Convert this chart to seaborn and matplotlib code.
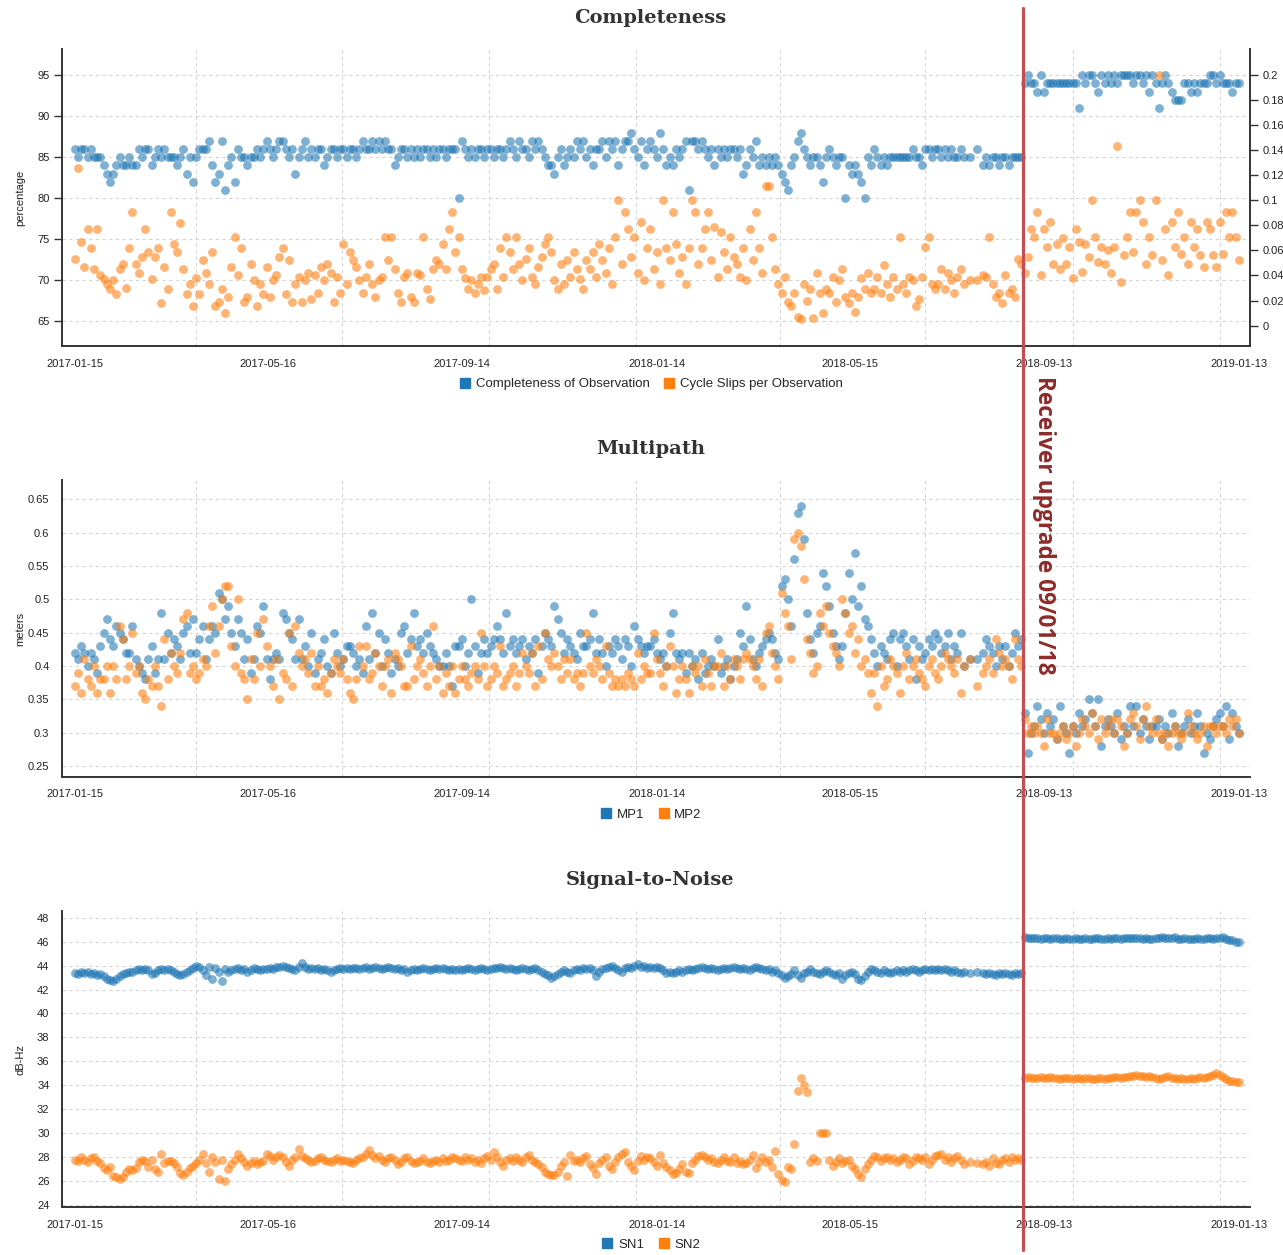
import matplotlib
matplotlib.use("Agg")
import matplotlib.pyplot as plt
import matplotlib.dates as mdates
from matplotlib.lines import Line2D
import seaborn as sns
import pandas as pd
import numpy as np

BLUE = "#1f77b4"
ORANGE = "#ff7f0e"

# one sample every second day, 2017-01-15 .. 2019-01-13 (365 samples)
dates = pd.date_range("2017-01-15", "2019-01-13", freq="2D")
upgrade_date = "2018-08-31"

tick_labels = ["2017-01-15", "2017-05-16", "2017-09-14", "2018-01-14",
               "2018-05-15", "2018-09-13", "2019-01-13"]
grid_dates = ["2017-04-01", "2017-07-01", "2017-10-01", "2018-01-01",
              "2018-04-01", "2018-07-01", "2018-10-01", "2019-01-01"]

# completeness of observation (%), left axis
completeness = """
86 85 86 86 85 86 85 85 85 84 83 82 83 84 85 84 84 85 84 84 86 85 86 86 84 85 86 85 86 85
85 85 84 85 86 83 85 82 85 86 86 86 87 84 82 83 87 81 84 85 82 86 85 85 84 85 85 86 85 86
87 86 85 86 87 87 86 85 86 83 85 86 87 85 86 85 86 86 84 85 86 86 85 86 86 85 86 86 85 86
87 86 86 87 86 87 86 87 86 86 84 85 86 86 85 86 85 86 85 86 86 85 86 85 86 86 85 86 86 86
80 87 86 85 86 85 86 86 85 86 86 85 86 86 85 86 87 86 85 87 86 86 85 87 86 87 86 85 84 84
83 85 86 84 85 86 85 87 86 87 85 86 84 86 86 87 85 87 86 87 84 86 87 87 88 86 85 87 84 86
87 86 85 88 86 84 85 84 86 85 86 87 81 87 87 86 87 86 85 86 84 86 85 86 85 86 86 85 86 83
84 86 85 87 84 85 84 85 84 85 84 83 82 81 84 85 87 88 86 85 84 85 85 84 82 85 86 85 84 85
85 80 84 83 84 83 82 80 85 84 86 85 84 85 84 85 85 85 85 85 85 85 86 85 85 84 86 86 85 86
86 85 86 85 86 85 85 86 85 nan 85 nan 86 nan 84 85 84 85 85 84 85 85 84 85 85 85 85 94 95 94
94 93 95 93 94 94 94 94 94 94 94 94 94 94 91 95 94 95 95 94 93 95 94 95 94 95 94 95 95 95
95 94 95 95 94 95 93 95 94 91 94 95 94 93 92 92 92 94 94 93 94 93 94 94 94 95 95 94 95 94
94 94 93 94 94
"""

# cycle slips per observation, right axis
cycle_slips = """
.053 .126 .067 .047 .077 .062 .045 .077 .040 .037 .033 .029 .036 .025 .045 .049 .030 .062 .091 .049 .042 .055 .077 .059 .037 .055 .062 .018 .047 .029
.091 .065 .059 .082 .045 .025 .033 .016 .038 .025 .052 .042 .033 .059 .016 .019 .029 .010 .023 .047 .071 .040 .062 .019 .023 .049 .036 .016 .033 .025
.047 .023 .036 .040 .055 .062 .025 .052 .019 .033 .039 .019 .036 .042 .021 .040 .026 .047 .036 .049 .042 .019 .039 .026 .065 .033 .059 .052 .047 .036
.026 .039 .049 .033 .023 .036 .039 .071 .052 .071 .045 .026 .019 .039 .042 .023 .019 .042 .040 .071 .029 .021 .045 .052 .049 .065 .045 .077 .091 .059
.071 .045 .038 .029 .036 .026 .033 .039 .028 .039 .045 .049 .029 .062 .039 .071 .059 .045 .071 .049 .036 .053 .062 .039 .033 .047 .055 .065 .071 .059
.036 .029 .049 .033 .052 .039 .059 .045 .037 .029 .052 .045 .059 .039 .065 .052 .042 .062 .033 .071 .100 .049 .091 .077 .055 .071 .042 .083 .036 .062
.077 .045 .059 .033 .100 .062 .052 .091 .065 .042 .055 .033 .062 .100 .091 .049 .062 .077 .091 .052 .079 .039 .075 .059 .045 .071 .055 .049 .039 .062
.036 .077 .052 .091 .062 .042 .111 .111 .071 .045 .033 .026 .039 .019 .016 .026 .007 .005 .033 .020 .029 .006 .042 .026 .010 .029 .026 .039 .019 .036
.045 .023 .018 .026 .011 .023 .038 .029 .042 .026 .029 .039 .026 .048 .033 .023 .039 .029 .071 .033 .026 .039 .036 .016 .021 .039 .063 .071 .033 .029
.033 .045 .029 .042 .036 .026 .039 .045 .033 nan .036 nan .036 nan .040 .039 .071 .033 .023 .026 .018 .040 .026 .029 .023 .053 .049 .042 .055 .077
.071 .091 .040 .077 .063 .083 .049 .065 .045 .070 .049 .063 .038 .077 .067 .043 .065 .055 .100 .071 .051 .063 .049 .060 .042 .063 .143 .035 .056 .071
.091 .059 .091 .100 .083 .049 .071 .056 .100 .200 .052 .077 .040 .083 .063 .091 .057 .071 .049 .083 .063 .077 .056 .047 .083 .077 .056 .047 .083 .057
.091 .071 .091 .071 .052
"""

# multipath (m)
mp1 = """
.42 .41 .43 .42 .40 .42 .41 .39 .43 .45 .47 .44 .43 .46 .45 .44 .42 .42 .46 .41 .40 .39 .38 .41 .43 .39 .41 .48 .41 .45
.42 .44 .43 .41 .45 .46 .42 .47 .42 .44 .46 .41 .44 .46 .45 .51 .50 .47 .49 .45 .43 .47 .45 .41 .44 .39 .41 .46 .45 .49
.41 .38 .41 .42 .41 .48 .47 .45 .44 .41 .47 .41 .43 .40 .45 .39 .41 .42 .44 .40 .39 .45 .42 .40 .41 .43 .43 .42 .40 .41
.39 .46 .41 .48 .42 .45 .40 .44 .42 .39 .41 .40 .45 .46 .42 .44 .48 .43 .44 .42 .45 .43 .42 .41 .40 .40 .42 .40 .37 .43
.43 .44 .40 .42 .50 .43 .39 .42 .44 .42 .43 .44 .46 .44 .42 .48 .43 .44 .42 .43 .44 .41 .43 .42 .44 .39 .43 .45 .44 .43
.49 .47 .45 .42 .44 .43 .42 .41 .45 .43 .43 .44 .48 .42 .44 .42 .40 .43 .42 .44 .43 .41 .44 .43 .40 .46 .44 .43 .42 .43
.43 .44 .42 .41 .42 .40 .45 .48 .42 .41 .42 .39 .42 .40 .41 .38 .42 .39 .40 .41 .40 .44 .39 .40 .41 .38 .40 .41 .45 .43
.49 .44 .41 .40 .42 .43 .44 .45 .44 .42 .41 .52 .53 .50 .46 .56 .63 .64 .59 .48 .44 .42 .45 .46 .54 .52 .49 .45 .43 .41
.43 .48 .54 .50 .57 .49 .52 .47 .46 .44 .42 .40 .43 .42 .41 .44 .45 .40 .44 .45 .43 .41 .44 .38 .43 .41 .42 .44 .43 .45
.44 .42 .43 .45 .41 .43 .42 .45 .40 nan .41 nan .41 nan .42 .44 .43 .42 .40 .43 .41 .43 .40 .42 .45 .43 .44 .33 .27 .30
.31 .34 .32 .30 .33 .31 .32 .29 .34 .31 .30 .27 .31 .30 .33 .31 .32 .35 .33 .31 .35 .28 .31 .32 .31 .30 .33 .29 .31 .30
.34 .31 .34 .30 .32 .31 .29 .31 .31 .32 .29 .31 .30 .33 .31 .28 .30 .31 .32 .30 .31 .33 .31 .27 .30 .29 .31 .32 .33 .31
.34 .29 .33 .31 .30
"""

mp2 = """
.37 .39 .36 .41 .38 .37 .40 .36 .38 .38 .40 .36 .40 .38 .46 .44 .38 .40 .45 .39 .40 .36 .35 .38 .37 .40 .37 .34 .44 .38
.42 .40 .39 .42 .47 .48 .39 .40 .38 .39 .41 .40 .46 .49 .42 .46 .50 .52 .52 .43 .40 .50 .39 .38 .35 .41 .38 .45 .40 .47
.43 .40 .37 .41 .35 .39 .38 .45 .37 .46 .42 .40 .41 .39 .42 .37 .40 .37 .38 .36 .39 .41 .40 .39 .41 .38 .36 .35 .38 .43
.40 .43 .38 .39 .42 .40 .37 .40 .41 .36 .42 .41 .40 .37 .37 .43 .38 .40 .41 .39 .37 .40 .46 .38 .40 .36 .39 .37 .40 .36
.38 .40 .38 .37 .39 .40 .38 .45 .40 .37 .38 .40 .39 .43 .37 .38 .39 .40 .37 .39 .42 .40 .39 .42 .37 .43 .38 .45 .41 .40
.42 .40 .38 .41 .39 .41 .38 .39 .37 .39 .45 .40 .39 .41 .40 .38 .43 .39 .37 .38 .37 .38 .37 .39 .38 .37 .42 .38 .40 .39
.39 .45 .41 .39 .37 .40 .43 .40 .36 .38 .40 .38 .36 .40 .39 .40 .37 .41 .39 .37 .40 .40 .42 .37 .40 .38 .41 .40 .38 .41
.42 .41 .40 .38 .41 .37 .45 .46 .42 .40 .38 .51 .48 .46 .41 .59 .60 .58 .53 .44 .42 .39 .40 .48 .46 .49 .45 .43 .42 .40
.50 .48 .45 .46 .42 .44 .40 .41 .39 .36 .39 .34 .40 .37 .38 .41 .40 .39 .36 .40 .42 .38 .40 .41 .39 .38 .37 .40 .41 .39
.38 .40 .42 .41 .40 .39 .41 .36 .40 nan .41 nan .37 nan .39 .40 .41 .39 .44 .42 .40 .41 .40 .38 .44 .41 .40 .32 .30 .31
.30 .31 .30 .28 .32 .30 .30 .29 .30 .31 .29 .30 .31 .28 .30 .32 .31 .30 .33 .31 .29 .32 .30 .31 .32 .30 .32 .31 .28 .30
.32 .33 .31 .29 .32 .34 .31 .30 .32 .30 .29 .30 .28 .30 .31 .30 .29 .30 .33 .31 .30 .29 .30 .31 .28 .31 .31 .30 .31 .31
.30 .32 .31 .32 .30
"""

# signal-to-noise (dB-Hz)
sn1 = """
43.4 43.3 43.5 43.4 43.5 43.3 43.4 43.2 43.3 43.1 42.9 42.8 42.7 42.9 43.1 43.3 43.4 43.5 43.5 43.6 43.7 43.6 43.7 43.6 43.3 43.4 43.6 43.7 43.6 43.7
43.6 43.5 43.3 43.2 43.3 43.5 43.6 43.8 44.0 43.9 43.6 43.2 43.9 42.9 43.8 43.5 42.7 43.7 43.5 43.6 43.7 43.8 43.6 43.7 43.5 43.6 43.8 43.7 43.6 43.7
43.7 43.8 43.7 43.9 43.9 44.0 43.9 43.8 43.7 43.6 43.9 44.2 43.9 43.7 43.8 43.7 43.8 43.6 43.7 43.6 43.5 43.6 43.7 43.8 43.7 43.8 43.7 43.8 43.8 43.7
43.8 43.9 43.7 43.8 43.9 43.8 43.7 43.8 43.9 43.8 43.7 43.8 43.6 43.7 43.5 43.6 43.7 43.6 43.7 43.8 43.7 43.6 43.7 43.8 43.7 43.8 43.7 43.6 43.7 43.6
43.7 43.6 43.7 43.8 43.7 43.6 43.7 43.8 43.7 43.6 43.7 43.8 43.8 43.9 43.8 43.7 43.8 43.7 43.6 43.7 43.8 43.7 43.6 43.7 43.8 43.6 43.5 43.3 43.2 43.0
43.1 43.3 43.5 43.6 43.5 43.4 43.6 43.7 43.6 43.8 43.7 43.8 43.6 43.1 43.5 43.7 43.8 43.9 44.0 43.8 43.6 43.5 43.8 43.9 43.8 44.0 44.1 43.9 44.0 43.8
43.9 43.8 43.9 43.8 43.6 43.4 43.5 43.4 43.5 43.6 43.5 43.6 43.7 43.6 43.7 43.8 43.9 43.8 43.7 43.8 43.7 43.6 43.7 43.8 43.7 43.8 43.9 43.8 43.7 43.8
43.7 43.6 43.8 43.9 43.8 43.7 43.6 43.7 43.5 43.6 43.4 43.2 43.0 43.1 43.3 43.6 43.2 43.0 43.4 43.5 43.7 43.5 43.4 43.3 43.5 43.6 43.5 43.3 43.2 43.4
42.9 43.2 43.4 43.5 43.3 42.9 42.8 43.1 43.5 43.7 43.6 43.5 43.4 43.6 43.5 43.4 43.5 43.6 43.5 43.6 43.5 43.6 43.7 43.6 43.5 43.6 43.7 43.6 43.7 43.6
43.7 43.6 43.7 43.6 43.5 43.6 43.5 43.4 43.5 nan 43.4 nan 43.5 nan 43.4 43.3 43.4 43.3 43.2 43.4 43.3 43.4 43.3 43.2 43.4 43.3 43.4 46.4 46.3 46.3
46.3 46.3 46.2 46.3 46.3 46.2 46.3 46.3 46.2 46.2 46.3 46.2 46.2 46.3 46.2 46.2 46.3 46.2 46.2 46.3 46.3 46.2 46.2 46.3 46.2 46.3 46.3 46.2 46.3 46.3
46.3 46.3 46.3 46.3 46.2 46.3 46.2 46.2 46.3 46.3 46.4 46.3 46.3 46.3 46.4 46.2 46.2 46.3 46.2 46.2 46.2 46.3 46.2 46.2 46.3 46.3 46.2 46.3 46.3 46.4
46.2 46.1 46.1 46.0 46.0
"""

sn2 = """
27.8 27.7 28.0 27.8 27.6 27.9 28.0 27.7 27.5 27.1 26.9 27.2 26.4 26.3 26.2 26.3 26.8 27.0 26.9 27.1 27.6 27.8 27.7 27.2 27.8 27.0 26.8 28.3 27.5 27.7
27.7 27.5 27.2 26.7 26.5 26.8 27.1 27.3 27.5 27.8 28.3 27.5 26.8 28.0 27.6 26.2 27.8 26.0 27.0 27.4 27.8 28.3 27.9 27.6 27.3 27.5 27.7 27.4 27.6 27.7
28.3 28.1 27.8 28.0 28.2 28.0 27.6 27.3 27.8 28.0 28.7 28.1 27.9 27.8 27.6 27.7 27.9 28.0 27.8 27.7 27.6 27.8 27.9 27.7 27.8 27.7 27.6 27.5 27.8 27.9
28.0 28.3 28.6 28.2 27.9 28.1 27.8 27.6 27.9 28.0 27.8 27.4 27.6 27.9 28.0 27.7 27.5 27.6 27.7 27.9 27.6 27.5 27.7 27.8 27.6 27.9 27.7 27.8 28.0 27.9
27.8 27.7 28.0 27.8 27.9 27.6 27.8 27.5 27.9 28.1 27.8 28.4 28.0 27.6 27.3 27.8 27.9 27.7 28.0 27.8 27.6 28.0 28.2 27.8 27.6 27.4 27.2 26.8 26.6 26.5
26.5 26.8 27.3 27.6 26.4 28.2 27.7 27.8 27.6 27.9 28.1 27.4 27.1 26.6 27.5 27.8 28.0 27.3 27.0 27.6 28.0 28.3 28.4 27.6 27.3 26.9 27.7 28.1 27.8 28.0
27.9 27.6 27.3 28.2 27.5 27.2 26.9 26.6 26.7 27.0 27.4 26.8 26.7 27.5 27.8 28.1 28.2 28.0 27.8 27.9 27.6 27.5 27.8 28.0 27.7 27.6 28.0 27.5 27.7 27.4
27.5 27.8 28.2 27.1 27.6 28.0 27.6 27.8 27.2 28.5 26.6 26.1 25.9 27.2 27.0 29.1 33.5 34.6 34.0 33.4 27.6 27.9 27.7 30.0 30.0 30.0 27.8 27.3 27.6 27.9
27.5 27.7 27.8 27.3 27.0 26.6 26.3 27.0 27.4 27.8 28.1 28.0 27.7 27.9 28.0 27.8 27.9 27.6 27.8 28.0 27.9 27.4 27.7 28.0 27.9 27.8 28.0 27.4 27.8 28.1
28.2 28.3 27.8 28.0 27.6 27.9 28.1 27.8 27.4 nan 27.6 nan 27.5 nan 27.4 27.6 27.3 27.9 27.5 27.4 27.8 27.9 27.6 28.0 27.8 27.9 27.8 34.6 34.7 34.6
34.6 34.6 34.7 34.6 34.6 34.7 34.6 34.6 34.5 34.6 34.6 34.6 34.5 34.6 34.6 34.5 34.6 34.6 34.5 34.5 34.6 34.6 34.5 34.6 34.6 34.7 34.7 34.6 34.7 34.7
34.8 34.8 34.9 34.8 34.8 34.7 34.8 34.7 34.6 34.5 34.6 34.7 34.8 34.6 34.6 34.5 34.6 34.5 34.5 34.6 34.5 34.6 34.7 34.6 34.7 34.8 34.9 35.0 34.9 34.7
34.5 34.4 34.4 34.3 34.3
"""


def vals(text):
    v = np.array([float(t) for t in text.split()])
    assert len(v) == len(dates), len(v)
    return v


sns.set_style("white")
plt.rcParams["font.family"] = ["Liberation Sans", "DejaVu Sans"]

fig = plt.figure(figsize=(12.83, 12.55), dpi=100)
ax_c = fig.add_axes([0.0483, 0.7243, 0.926, 0.2367])
ax_m = fig.add_axes([0.0483, 0.3809, 0.926, 0.2367])
ax_s = fig.add_axes([0.0483, 0.0382, 0.926, 0.2359])

major = mdates.date2num(pd.to_datetime(tick_labels))
minor = (major[:-1] + major[1:]) / 2
xlim = mdates.date2num(pd.to_datetime(["2017-01-07", "2019-01-20"]))
GRID = dict(color="#d4d4d4", linestyle=(0, (3, 3)), linewidth=0.8, zorder=0)
DOT = dict(s=40, alpha=0.58, linewidth=0, legend=False)


def style(ax, yticks, ylim, ylabel):
    ax.set_xlim(xlim)
    ax.set_ylim(ylim)
    ax.set_yticks(yticks)
    ax.set_yticklabels([f"{t:g}" for t in yticks])
    ax.set_xticks(major)
    ax.set_xticklabels(tick_labels)
    ax.set_xticks(minor, minor=True)
    ax.set_axisbelow(True)
    for g in pd.to_datetime(grid_dates):
        ax.axvline(g, **GRID)
    for t in yticks:
        ax.axhline(t, **GRID)
    for side in ["top", "right"]:
        ax.spines[side].set_visible(False)
    for side in ["left", "bottom"]:
        ax.spines[side].set_color("#333333")
        ax.spines[side].set_linewidth(1.4)
    ax.tick_params(which="both", direction="out", length=6, width=1,
                   color="#333333", labelsize=8, labelcolor="#222222", pad=3)
    ax.set_xlabel("")
    ax.set_ylabel(ylabel, fontsize=8, color="#222222")
    ax.yaxis.set_label_coords(-0.031, 0.5)


# Completeness
sns.scatterplot(x=dates, y=vals(completeness), ax=ax_c, color=BLUE, **DOT)
style(ax_c, [65, 70, 75, 80, 85, 90, 95], (62.0, 98.2), "percentage")
ax_r = ax_c.twinx()
sns.scatterplot(x=dates, y=vals(cycle_slips), ax=ax_r, color=ORANGE, **DOT)
ax_r.set_ylim(-0.0163, 0.2207)
rt = [0, 0.02, 0.04, 0.06, 0.08, 0.1, 0.12, 0.14, 0.16, 0.18, 0.2]
ax_r.set_yticks(rt)
ax_r.set_yticklabels([f"{t:g}" for t in rt])
ax_r.set_ylabel("")
for side in ["top", "left", "bottom"]:
    ax_r.spines[side].set_visible(False)
ax_r.spines["right"].set_color("#333333")
ax_r.spines["right"].set_linewidth(1.4)
ax_r.tick_params(direction="out", length=6, width=1, color="#333333",
                 labelsize=8, labelcolor="#222222", pad=3)

# Multipath
sns.scatterplot(x=dates, y=vals(mp1), ax=ax_m, color=BLUE, **DOT)
sns.scatterplot(x=dates, y=vals(mp2), ax=ax_m, color=ORANGE, **DOT)
style(ax_m, [0.25, 0.3, 0.35, 0.4, 0.45, 0.5, 0.55, 0.6, 0.65], (0.2335, 0.679), "meters")

# Signal-to-Noise
sns.scatterplot(x=dates, y=vals(sn1), ax=ax_s, color=BLUE, **DOT)
sns.scatterplot(x=dates, y=vals(sn2), ax=ax_s, color=ORANGE, **DOT)
style(ax_s, list(range(24, 49, 2)), (23.83, 48.56), "dB-Hz")

# titles and legends
TITLE = dict(ha="center", va="center", fontsize=14, fontweight="bold",
             family="DejaVu Serif", color="#333333")
fig.text(0.507, 0.9857, "Completeness", **TITLE)
fig.text(0.507, 0.6422, "Multipath", **TITLE)
fig.text(0.507, 0.2988, "Signal-to-Noise", **TITLE)


def legend(labels, y):
    handles = [Line2D([], [], marker="s", linestyle="", color=c, markersize=7.5)
               for c in (BLUE, ORANGE)]
    fig.legend(handles, labels, loc="center", bbox_to_anchor=(0.507, y), ncol=2,
               frameon=False, fontsize=9.5, handletextpad=0.3, columnspacing=1.0,
               handlelength=1.0)


legend(["Completeness of Observation", "Cycle Slips per Observation"], 0.694)
legend(["MP1", "MP2"], 0.3506)
legend(["SN1", "SN2"], 0.008)

# receiver upgrade marker across all panels
xd = mdates.date2num(pd.Timestamp(upgrade_date))
xf = fig.transFigure.inverted().transform(ax_c.transData.transform((xd, 70)))[0]
fig.add_artist(Line2D([xf, xf], [0.004, 0.9936], transform=fig.transFigure,
                      color="#c44e52", linewidth=2.3, zorder=10))
fig.text(xf + 21 / 1283, 0.5817, "Receiver upgrade 09/01/18", rotation=-90,
         ha="center", va="center", fontsize=16.3, fontweight="bold",
         family="Open Sans", color="#8e2a2a")

fig.savefig("out.png", dpi=100)
